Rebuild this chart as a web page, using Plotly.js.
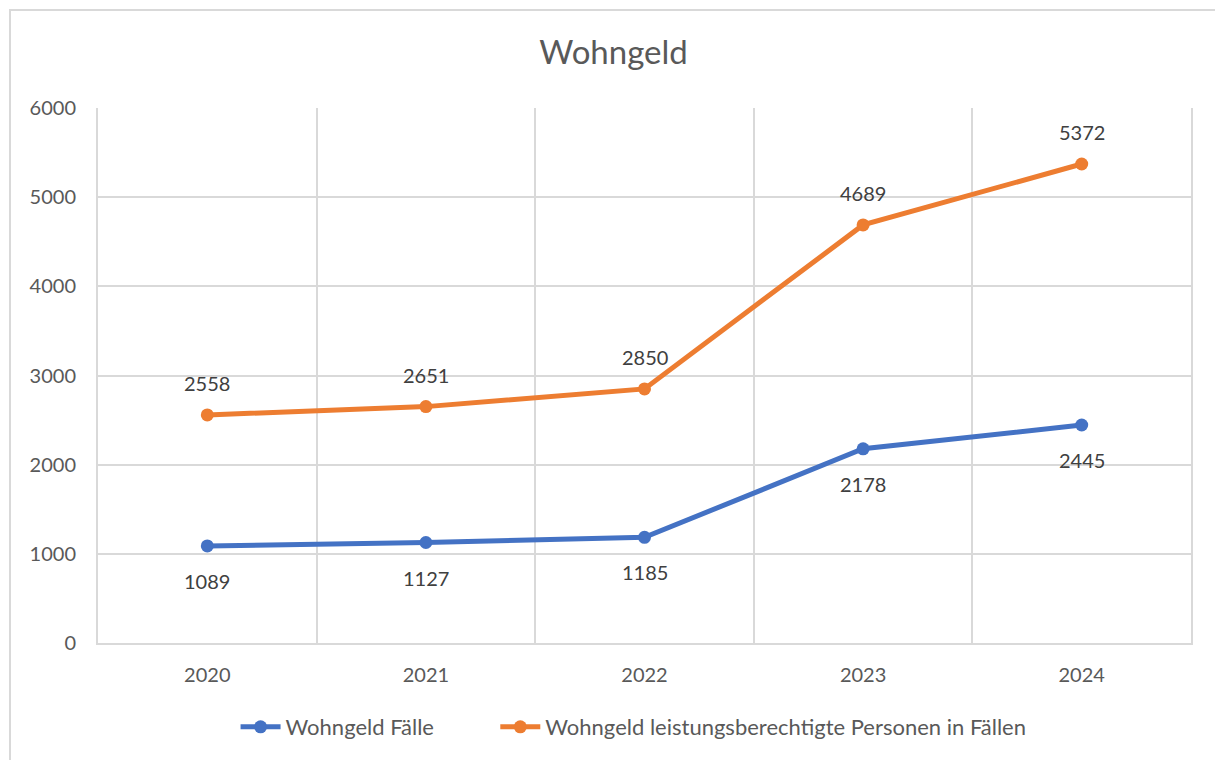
<!DOCTYPE html>
<html>
<head>
<meta charset="utf-8">
<script src="https://cdn.plot.ly/plotly-3.0.1.min.js"></script>
<style>
  html, body { margin: 0; padding: 0; background: #fff; }
  #wrap { position: relative; width: 1215px; height: 760px; overflow: hidden; }
  #chart { position: absolute; left: 0; top: 0; width: 1215px; height: 760px; }
  #frame { position: absolute; left: 9px; top: 9px; width: 1230px; height: 780px; border: 2px solid #d9d9d9; pointer-events: none; }
</style>
</head>
<body>
<div id="wrap"><div id="chart"></div><div id="frame"></div></div>
<script>
const years = ["2020", "2021", "2022", "2023", "2024"];
const faelle = [1089, 1127, 1185, 2178, 2445];
const personen = [2558, 2651, 2850, 4689, 5372];
const seriesNames = ["Wohngeld Fälle", "Wohngeld leistungsberechtigte Personen in Fällen"];
const yTicks = [0, 1000, 2000, 3000, 4000, 5000, 6000];

const FONT = "Lato, 'Open Sans', sans-serif";
const GREY = "#595959";
const BLUE = "#4472C4";
const ORANGE = "#ED7D31";
const PAD = "\u00a0".repeat(10);

const traces = [
  { x: years, y: faelle, name: seriesNames[0] + PAD, type: "scatter", mode: "lines+markers",
    line: { color: BLUE, width: 5 }, marker: { color: BLUE, size: 13 }, hoverinfo: "x+y" },
  { x: years, y: personen, name: seriesNames[1], type: "scatter", mode: "lines+markers",
    line: { color: ORANGE, width: 5 }, marker: { color: ORANGE, size: 13 }, hoverinfo: "x+y" }
];

const annotations = [];
years.forEach((yr, i) => {
  annotations.push({ xref: "x", yref: "y", x: i, y: faelle[i], text: String(faelle[i]), showarrow: false, yshift: -35,
    font: { family: FONT, size: 20, color: "#404040" } });
  annotations.push({ xref: "x", yref: "y", x: i, y: personen[i], text: String(personen[i]), showarrow: false, yshift: 32,
    font: { family: FONT, size: 20, color: "#404040" } });
});

const layout = {
  width: 1215, height: 760,
  margin: { l: 98, r: 24, t: 108, b: 117 },
  paper_bgcolor: "#fff", plot_bgcolor: "#fff",
  title: { text: "Wohngeld", x: 0.505, xanchor: "center", y: 0.931, yanchor: "middle",
    font: { family: FONT, size: 33, color: GREY } },
  xaxis: { type: "category", range: [-0.5, 4.5], tickson: "boundaries", ticks: "",
    showgrid: true, gridcolor: "#d9d9d9", gridwidth: 2,
    showline: true, linecolor: "#d9d9d9", linewidth: 2,
    tickfont: { family: FONT, size: 20, color: GREY }, ticklabelstandoff: 13, fixedrange: true },
  yaxis: { range: [0, 6000], tickvals: yTicks, ticks: "",
    showgrid: true, gridcolor: "#d9d9d9", gridwidth: 2, zeroline: false,
    showline: true, mirror: true, linecolor: "#d9d9d9", linewidth: 2,
    tickfont: { family: FONT, size: 20, color: GREY }, ticklabelstandoff: 16, fixedrange: true },
  legend: { orientation: "h", x: 0.49, xanchor: "center", y: -0.157, yanchor: "middle",
    font: { family: FONT, size: 22, color: GREY }, itemwidth: 40, tracegroupgap: 0 },
  annotations: annotations,
  showlegend: true
};

Plotly.newPlot("chart", traces, layout, { displayModeBar: false, staticPlot: true });
</script>
</body>
</html>
